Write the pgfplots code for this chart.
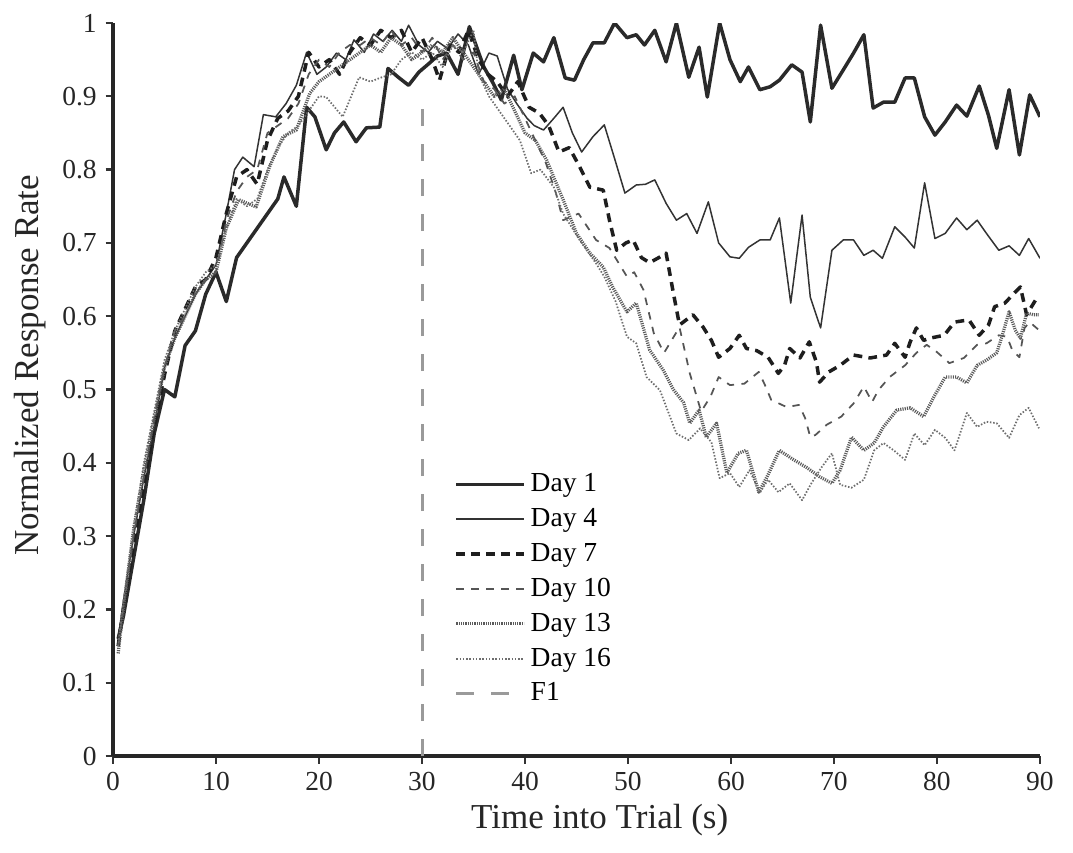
\documentclass[border=0pt]{standalone}
\usepackage{fontspec}
\setmainfont{Liberation Serif}
\usepackage{pgfplots}
\pgfplotsset{compat=1.18}
\definecolor{dOne}{HTML}{2A2A2A}
\definecolor{dFour}{HTML}{333333}
\definecolor{dSeven}{HTML}{1E1E1E}
\definecolor{dTen}{HTML}{555555}
\definecolor{dThirteen}{HTML}{5A5A5A}
\definecolor{dSixteen}{HTML}{6E6E6E}
\definecolor{fOne}{HTML}{9A9A9A}

\begin{document}
\begin{tikzpicture}
\begin{axis}[
  scale only axis, width=370.8pt, height=293.2pt,
  xmin=0, xmax=90, ymin=0, ymax=1,
  xtick={0,10,...,90}, ytick={0,0.1,...,1},
  axis lines=left,
  axis line style={line width=1.6pt, draw=black!85, -},
  tick style={line width=0.9pt, black!80},
  tick align=outside, major tick length=3pt,
  /pgf/number format/assume math mode=true,
  /pgf/number format/fixed,
  tick label style={font=\fontsize{11}{13}\selectfont, text=black!85},
  xlabel={Time into Trial (s)}, ylabel={Normalized Response Rate},
  label style={font=\fontsize{14}{16}\selectfont, text=black!85},
  xlabel style={at={(axis description cs:0.525,-0.087)}, anchor=center},
  ylabel style={at={(axis description cs:-0.0895,0.533)}, anchor=center},
  legend style={at={(0.36,0.40)}, anchor=north west, draw=none, fill=none,
    font=\fontsize{11}{13}\selectfont, row sep=1.2pt},
  legend cell align=left,
  legend image code/.code={\draw[#1] (0pt,0pt) -- (27pt,0pt);},
  every axis plot/.append style={line join=round}
]
% Day 1
\addplot[dOne, line width=1.4pt] coordinates {
(0.5,0.16)(1,0.19)(2,0.27)(3,0.35)(4,0.44)(5,0.50)(6,0.49)(7,0.56)(8,0.58)(9,0.63)
(10,0.66)(11,0.62)(12,0.68)(13,0.70)(14,0.72)(15,0.74)(16,0.76)(16.6,0.79)(17.8,0.75)
(18.8,0.885)(19.6,0.872)(20.7,0.827)(21.5,0.85)(22.4,0.865)(23.6,0.838)(24.6,0.857)
(25.9,0.858)(26.7,0.938)(27.7,0.926)(28.7,0.915)(29.7,0.933)(30.7,0.945)(31.5,0.955)
(32.4,0.959)(33.5,0.93)(34.6,0.995)(36,0.94)(36.9,0.918)(37.7,0.895)(38.9,0.956)
(39.7,0.909)(40.8,0.959)(41.8,0.947)(42.8,0.98)(43.9,0.925)(44.8,0.922)(45.7,0.95)
(46.6,0.973)(47.7,0.973)(48.7,1.0)(49.9,0.98)(50.8,0.984)(51.6,0.97)(52.6,0.99)
(53.7,0.947)(54.7,1.0)(55.9,0.926)(56.9,0.967)(57.7,0.899)(58.9,1.0)(59.9,0.95)
(60.9,0.92)(61.7,0.94)(62.8,0.909)(63.8,0.913)(64.7,0.922)(65.9,0.943)(66.9,0.933)
(67.7,0.865)(68.7,0.997)(69.8,0.911)(70.9,0.936)(71.9,0.959)(72.9,0.984)(73.8,0.884)
(74.8,0.892)(75.9,0.892)(76.9,0.925)(77.8,0.925)(78.8,0.872)(79.8,0.847)(80.8,0.865)
(81.9,0.888)(82.9,0.873)(84.1,0.914)(85,0.874)(85.8,0.829)(87,0.909)(88,0.82)
(89,0.902)(90,0.872)};
\addlegendentry{Day 1}
% Day 4
\addplot[dFour, line width=0.6pt] coordinates {
(0.5,0.16)(1,0.21)(2,0.30)(3,0.38)(4,0.45)(5,0.53)(6,0.57)(7,0.60)(8,0.63)(9,0.65)
(10,0.67)(11,0.74)(11.8,0.80)(12.6,0.817)(13.7,0.804)(14.6,0.875)(15.8,0.872)
(16.8,0.89)(17.8,0.915)(18.8,0.96)(19.8,0.93)(20.7,0.94)(21.7,0.959)(22.6,0.95)
(23.4,0.977)(24.4,0.96)(25.3,0.985)(26.2,0.975)(27.1,0.99)(28,0.975)(28.7,0.997)
(29.7,0.97)(30.6,0.96)(31.5,0.975)(32.5,0.965)(33.5,0.985)(34.5,0.97)(35.5,0.93)
(36.5,0.959)(37.3,0.955)(38.3,0.91)(39.2,0.89)(40.2,0.87)(40.9,0.86)(41.8,0.854)
(42.8,0.87)(43.7,0.885)(44.6,0.85)(45.5,0.824)(46.6,0.845)(47.7,0.861)(48.7,0.815)
(49.7,0.768)(50.8,0.779)(51.7,0.78)(52.6,0.786)(53.7,0.754)(54.7,0.731)(55.7,0.74)
(56.7,0.713)(57.8,0.756)(58.8,0.70)(59.9,0.681)(60.8,0.679)(61.7,0.694)(62.8,0.704)
(63.8,0.704)(64.7,0.734)(65.8,0.618)(66.9,0.738)(67.7,0.626)(68.7,0.584)(69.8,0.69)
(70.9,0.704)(71.9,0.704)(72.9,0.683)(73.8,0.69)(74.7,0.679)(75.9,0.722)(76.9,0.708)
(77.8,0.693)(78.8,0.782)(79.8,0.706)(80.8,0.713)(81.9,0.734)(82.9,0.718)(83.9,0.731)
(84.8,0.713)(86,0.69)(87,0.696)(88,0.683)(88.9,0.706)(90,0.679)};
\addlegendentry{Day 4}
% Day 7
\addplot[dSeven, line width=1.4pt, dash pattern=on 3.5pt off 2.5pt] coordinates {
(0.5,0.15)(1,0.20)(2,0.29)(3,0.37)(4,0.45)(5,0.52)(6,0.58)(7,0.61)(8,0.64)(9,0.65)
(10,0.68)(11,0.74)(12,0.79)(13,0.80)(14,0.78)(15,0.84)(16,0.87)(17,0.88)(18,0.90)
(19,0.96)(20,0.94)(21,0.95)(22,0.93)(23,0.96)(24,0.98)(25,0.97)(26,0.99)(27,0.98)
(28,0.99)(29,0.96)(30,0.98)(31,0.95)(31.7,0.922)(32.7,0.97)(33.6,0.96)(34.5,0.99)
(35.5,0.95)(36.4,0.93)(37.3,0.92)(38.3,0.90)(39.3,0.92)(40.4,0.885)(41.4,0.877)
(42.3,0.86)(43.3,0.824)(44.3,0.83)(45.3,0.804)(46.3,0.776)(47.6,0.772)(48.2,0.731)
(48.9,0.69)(49.8,0.70)(50.5,0.704)(51.3,0.68)(52.1,0.673)(53,0.68)(53.7,0.686)
(54.4,0.632)(55,0.588)(56.3,0.602)(57.3,0.585)(58.1,0.567)(58.8,0.544)(59.9,0.556)
(60.8,0.574)(61.5,0.556)(62.5,0.553)(63.6,0.544)(64.6,0.522)(65.2,0.533)(65.7,0.556)
(66.7,0.543)(67.6,0.565)(68.3,0.537)(68.6,0.51)(69.5,0.524)(70.6,0.533)(71.9,0.547)
(73.5,0.543)(75.1,0.547)(75.9,0.563)(76.9,0.544)(77.4,0.565)(78,0.584)(78.7,0.567)
(79.3,0.57)(80.7,0.574)(81.7,0.592)(83.1,0.595)(84.1,0.574)(85,0.588)(85.6,0.613)
(86.6,0.618)(87.6,0.633)(88.1,0.64)(88.7,0.602)(89.7,0.625)};
\addlegendentry{Day 7}
% Day 10
\addplot[dTen, line width=0.7pt, dash pattern=on 3pt off 3pt] coordinates {
(0.5,0.15)(1,0.20)(2,0.30)(3,0.38)(4,0.46)(5,0.53)(6,0.58)(7,0.60)(8,0.63)(9,0.65)
(10,0.66)(11,0.73)(12,0.77)(13,0.79)(14,0.80)(15,0.85)(16,0.86)(17,0.87)(18,0.89)
(19,0.93)(20,0.95)(21,0.94)(22,0.96)(23,0.97)(24,0.97)(25,0.98)(26,0.97)(27,0.99)
(28,0.97)(29,0.98)(30,0.96)(31,0.98)(32,0.95)(33,0.97)(34,0.95)(35,0.96)(36,0.92)
(37,0.91)(38,0.89)(39,0.90)(40,0.87)(41,0.84)(42,0.81)(43,0.768)(43.7,0.731)
(45.2,0.74)(46.9,0.704)(48.2,0.693)(49.9,0.654)(50.6,0.66)(51.5,0.636)(52.5,0.577)
(53.5,0.55)(55,0.585)(56,0.522)(57.1,0.47)(58,0.49)(58.8,0.517)(59.9,0.506)
(61.3,0.508)(62.7,0.524)(63.3,0.506)(63.9,0.486)(65.4,0.476)(66.6,0.479)(67.2,0.461)
(67.7,0.435)(68.2,0.438)(69.3,0.452)(70.7,0.463)(71.9,0.481)(72.9,0.504)(73.7,0.483)
(74.3,0.499)(75.4,0.517)(76.9,0.533)(78,0.55)(79,0.561)(80,0.551)(81.2,0.536)
(82.6,0.543)(83.9,0.561)(84.8,0.563)(86,0.574)(86.8,0.572)(87.3,0.554)(88,0.544)
(88.5,0.584)(89,0.592)(89.9,0.581)};
\addlegendentry{Day 10}
% Day 13
\addplot[dThirteen, line width=1.3pt, dash pattern=on 0.45pt off 0.45pt] coordinates {
(0.5,0.14)(1,0.20)(2,0.31)(3,0.39)(4,0.46)(5,0.53)(6,0.57)(7,0.60)(8,0.63)(9,0.65)
(10,0.66)(11,0.72)(12.2,0.759)(13.9,0.749)(15.2,0.804)(16.5,0.845)(17.8,0.854)
(19.1,0.904)(20,0.92)(21,0.93)(22,0.94)(23,0.95)(24,0.96)(25,0.97)(26,0.96)(27,0.98)
(28,0.97)(29,0.95)(30,0.96)(31,0.97)(32,0.96)(33,0.98)(34,0.96)(35,0.94)(36,0.92)
(37,0.90)(38,0.91)(39,0.88)(40,0.85)(41,0.84)(42.1,0.813)(43.7,0.759)(45,0.713)
(46.3,0.686)(47.6,0.667)(48.5,0.64)(49.9,0.606)(50.8,0.618)(52.1,0.554)(53.4,0.527)
(54.4,0.50)(55.4,0.482)(56,0.454)(56.9,0.472)(57.6,0.435)(58.6,0.454)(59.6,0.386)
(60.7,0.413)(61.5,0.417)(62.7,0.36)(63.5,0.381)(64.7,0.417)(66.1,0.404)(67.3,0.394)
(68.6,0.381)(69.8,0.372)(70.6,0.39)(71.7,0.435)(72.9,0.417)(73.9,0.427)(74.8,0.449)
(76.1,0.472)(77.4,0.475)(78.7,0.463)(79.7,0.49)(80.8,0.517)(81.9,0.517)(82.9,0.509)
(83.9,0.533)(84.8,0.54)(85.8,0.55)(86.3,0.572)(87,0.606)(87.6,0.581)(88.1,0.57)
(88.7,0.604)(89.4,0.602)(89.9,0.602)};
\addlegendentry{Day 13}
% Day 16
\addplot[dSixteen, line width=0.7pt, dash pattern=on 0.6pt off 0.7pt] coordinates {
(0.5,0.15)(1,0.21)(2,0.31)(3,0.40)(4,0.47)(5,0.54)(6,0.58)(7,0.61)(8,0.64)(9,0.66)
(10,0.67)(11,0.72)(12,0.76)(13,0.75)(14,0.76)(15,0.80)(16,0.83)(17,0.85)(18,0.86)
(19,0.88)(20,0.90)(20.7,0.899)(22.3,0.872)(23.9,0.926)(25,0.92)(25.9,0.925)(27,0.93)
(28,0.95)(29,0.96)(30,0.95)(31,0.96)(32,0.94)(33,0.97)(34,0.96)(35,0.99)(35.5,0.93)
(36.5,0.90)(37.5,0.88)(38.5,0.86)(39.5,0.84)(40.6,0.795)(41.5,0.80)(42.8,0.776)
(43.7,0.74)(45.3,0.704)(46.9,0.672)(47.7,0.654)(48.8,0.62)(49.9,0.572)(50.8,0.563)
(51.8,0.517)(53.1,0.499)(54.7,0.44)(55.9,0.431)(57,0.447)(58.1,0.428)(58.9,0.379)
(59.9,0.386)(60.8,0.367)(61.8,0.39)(62.8,0.359)(63.6,0.377)(64.6,0.36)(65.7,0.372)
(66.9,0.349)(67.8,0.372)(68.8,0.394)(69.8,0.413)(70.6,0.37)(71.7,0.366)(72.9,0.377)
(73.9,0.417)(74.8,0.427)(75.8,0.417)(76.9,0.404)(77.8,0.44)(78.8,0.424)(79.8,0.445)
(80.8,0.434)(81.7,0.417)(82.9,0.468)(83.9,0.449)(84.8,0.456)(85.8,0.454)(87,0.434)
(88,0.465)(88.9,0.475)(89.9,0.447)};
\addlegendentry{Day 16}
% F1 marker
\addplot[fOne, line width=1.2pt, dash pattern=on 7pt off 7pt] coordinates {(30,0)(30,0.9)};
\addlegendentry{F1}
\end{axis}
\path (current axis.south west) ++(-45.2pt,-38.4pt);
\path (current axis.north east) ++(13.2pt,9.2pt);
\end{tikzpicture}
\end{document}
